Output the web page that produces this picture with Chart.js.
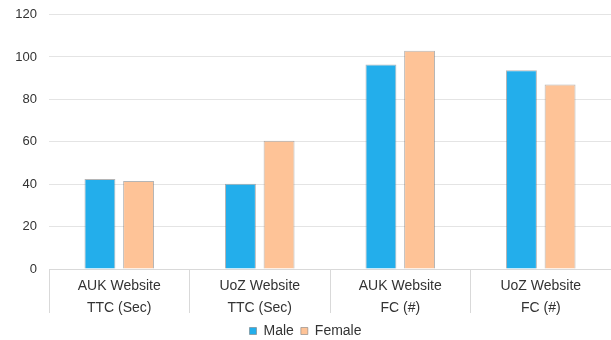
<!DOCTYPE html>
<html>
<head>
<meta charset="utf-8">
<script src="https://cdn.jsdelivr.net/npm/chart.js@4"></script>
<style>
  html, body { margin: 0; padding: 0; background: #fff; }
  #wrap { width: 611px; height: 340px; }
</style>
</head>
<body>
<div id="wrap"><canvas id="chart"></canvas></div>
<script>
const categories = [
    ['AUK Website', 'TTC (Sec)'],
    ['UoZ Website', 'TTC (Sec)'],
    ['AUK Website', 'FC (#)'],
    ['UoZ Website', 'FC (#)']
];
const maleValues = [42.5, 40.2, 96.5, 93.7];
const femaleValues = [41.5, 60.5, 103, 87];
const yTicks = [0, 20, 40, 60, 80, 100, 120];

document.addEventListener('DOMContentLoaded', function() {
    const ctx = document.getElementById('chart').getContext('2d');
    const textColor = '#333333';
    const lineColor = '#d9d9d9';

    new Chart(ctx, {
        type: 'bar',
        data: {
            labels: categories,
            datasets: [{
                label: 'Male',
                data: maleValues,
                backgroundColor: '#23aeeb',
                borderColor: 'rgba(120,120,120,0.55)',
                borderWidth: 1
            }, {
                label: 'Female',
                data: femaleValues,
                backgroundColor: '#fec397',
                borderColor: 'rgba(120,120,120,0.55)',
                borderWidth: 1
            }]
        },
        options: {
            responsive: true,
            maintainAspectRatio: false,
            animation: false,
            categoryPercentage: 0.55,
            barPercentage: 0.8,
            layout: { padding: { top: 0, right: 0, bottom: -8, left: 0 } },
            plugins: {
                tooltip: { enabled: false },
                legend: {
                    position: 'bottom',
                    labels: {
                        boxWidth: 7,
                        boxHeight: 7,
                        padding: 7,
                        color: textColor,
                        font: { family: 'Liberation Sans', size: 14 }
                    }
                }
            },
            scales: {
                x: {
                    afterFit: function(scale) { scale.height = 48; },
                    border: { display: true, color: lineColor },
                    grid: {
                        offset: true,
                        drawOnChartArea: false,
                        drawTicks: true,
                        tickLength: 44,
                        color: lineColor
                    },
                    ticks: {
                        padding: -38.5,
                        maxRotation: 0,
                        color: textColor,
                        font: { family: 'Liberation Sans', size: 14, lineHeight: 1.6 }
                    }
                },
                y: {
                    min: 0,
                    max: 120,
                    afterFit: function(scale) { scale.width = 49; },
                    afterBuildTicks: function(scale) {
                        scale.ticks = yTicks.map(v => ({ value: v }));
                    },
                    border: { display: false },
                    grid: { color: '#e4e4e4', drawTicks: false },
                    ticks: {
                        padding: 12,
                        color: textColor,
                        font: { family: 'Liberation Sans', size: 13, lineHeight: 0.4 }
                    }
                }
            }
        }
    });
});
</script>
</body>
</html>
